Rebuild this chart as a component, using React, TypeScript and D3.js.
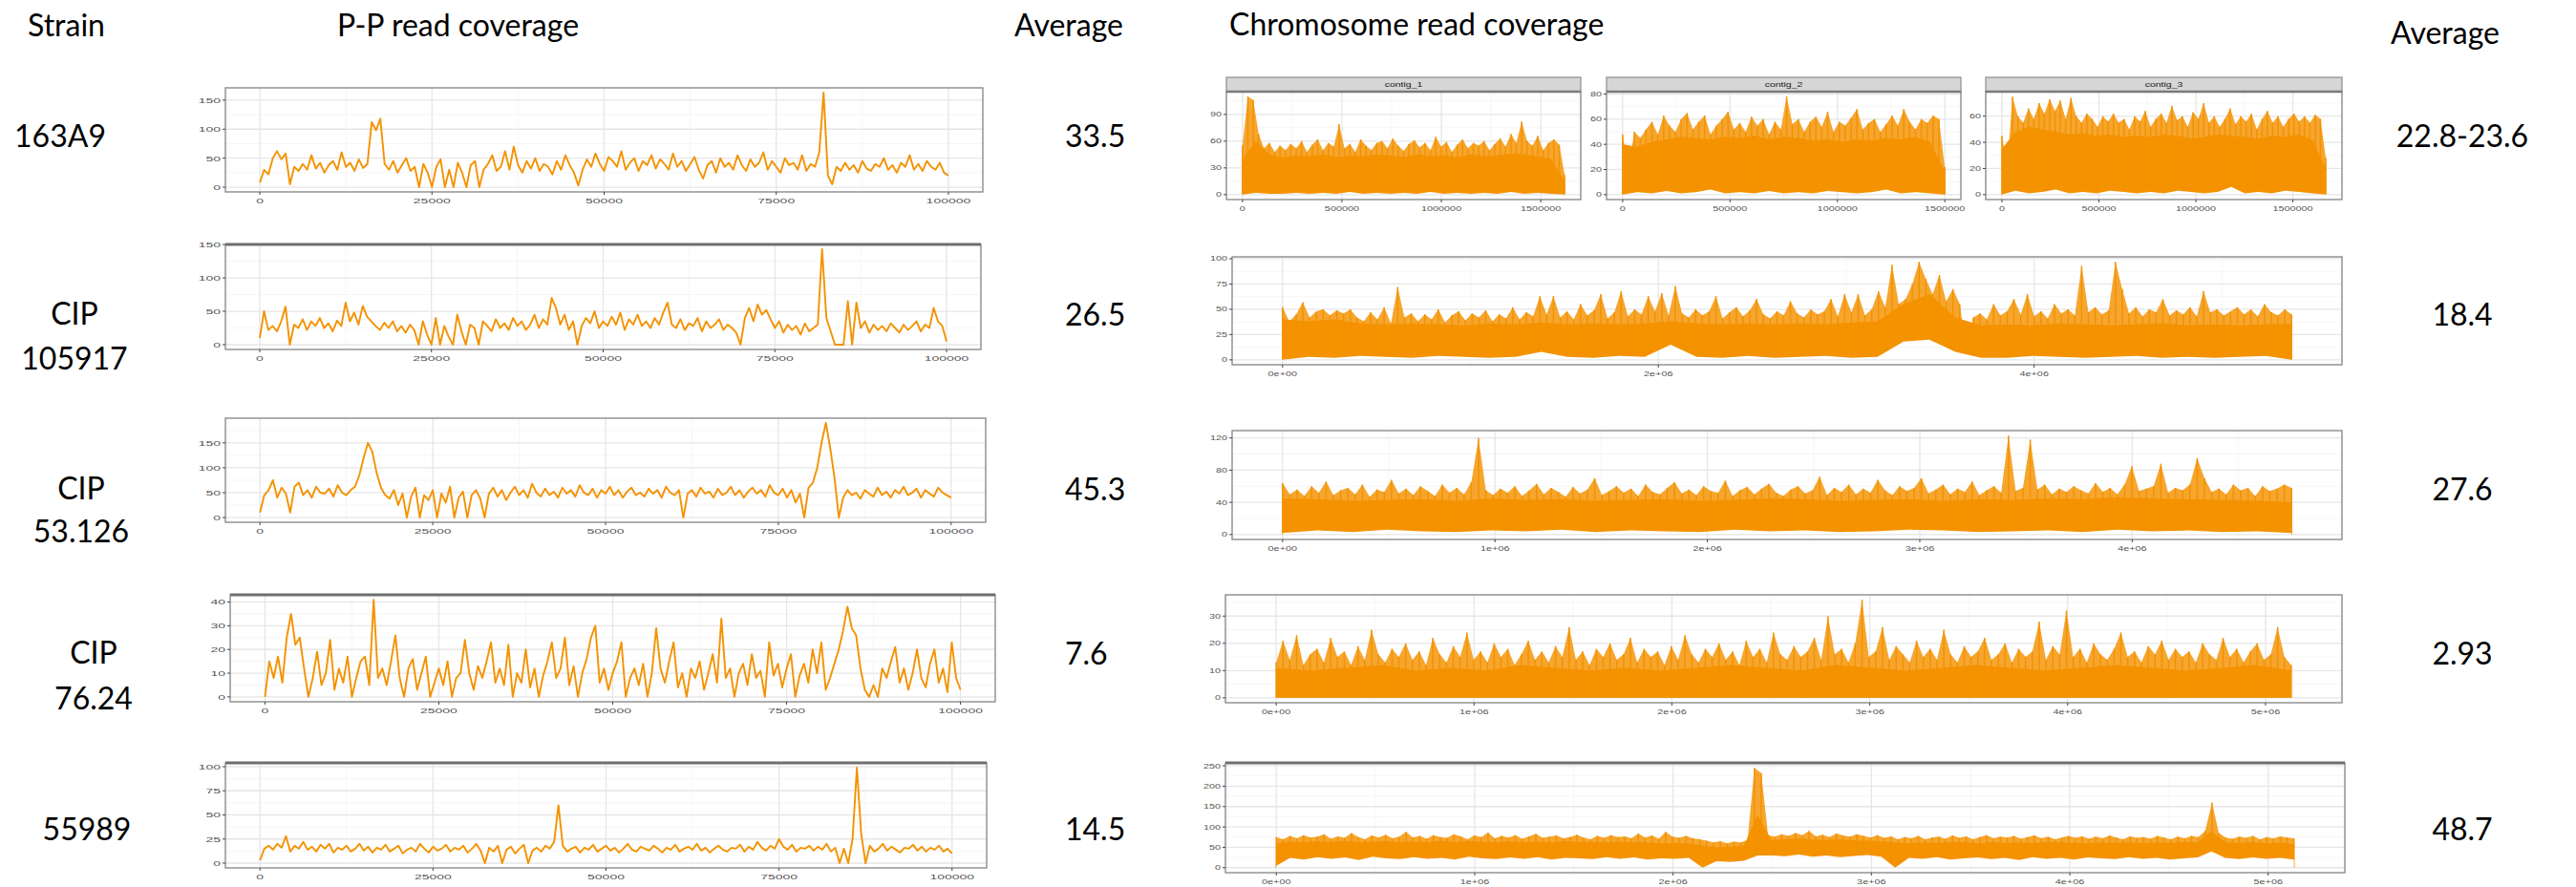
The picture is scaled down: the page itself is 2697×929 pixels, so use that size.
import React, { useRef, useEffect } from 'react';
import * as d3 from 'd3';

// ---------------- data ----------------
const strainNames = [["163A9"], ["CIP", "105917"], ["CIP", "53.126"], ["CIP", "76.24"], ["55989"]];
const ppAverage = ["33.5", "26.5", "45.3", "7.6", "14.5"];
const chrAverage = ["22.8-23.6", "18.4", "27.6", "2.93", "48.7"];

// P-P coverage, positions 0..100000, evenly sampled
const pp163A9 = [
  8, 30, 22, 50, 62, 48, 58, 5, 35, 28, 40, 30, 55, 32, 42, 25, 38, 45, 30, 60,
  35, 42, 28, 48, 33, 40, 112, 98, 118, 40, 30, 45, 25, 38, 50, 28, 35, 0, 40, 25,
  0, 35, 48, 0, 30, 0, 42, 25, 0, 38, 45, 0, 30, 40, 55, 28, 35, 62, 30, 70,
  38, 25, 45, 32, 50, 28, 40, 35, 22, 45, 30, 55, 38, 25, 3, 30, 48, 35, 58, 40,
  28, 52, 45, 35, 62, 30, 42, 50, 28, 45, 38, 55, 32, 48, 40, 30, 58, 35, 45, 28,
  40, 52, 30, 15, 38, 45, 25, 50, 35, 42, 30, 55, 38, 28, 48, 35, 42, 60, 30, 45,
  35, 25, 50, 38, 42, 30, 55, 28, 40, 35, 60, 163, 20, 5, 35, 28, 42, 30, 38, 25,
  45, 32, 28, 40, 35, 50, 30, 38, 25, 42, 35, 55, 30, 40, 28, 45, 35, 30, 42, 25, 20,
];
const ppCIP105917 = [
  10, 50, 22, 28, 20, 35, 57, 0, 30, 25, 38, 22, 35, 28, 40, 25, 32, 20, 36, 28,
  63, 35, 48, 30, 58, 42, 35, 28, 22, 33, 25, 35, 20, 28, 18, 30, 22, 0, 35, 15,
  0, 40, 0, 28, 12, 0, 45, 20, 0, 30, 25, 0, 35, 28, 20, 38, 25, 32, 22, 40,
  28, 35, 22, 30, 45, 25, 38, 30, 70, 55, 30, 45, 22, 35, 0, 28, 40, 32, 50, 25,
  35, 28, 42, 30, 48, 22, 38, 30, 45, 28, 35, 25, 40, 30, 48, 63, 30, 25, 38, 22,
  32, 28, 40, 20, 35, 25, 30, 38, 22, 30, 25, 18, 0, 40, 55, 35, 60, 45, 52, 38,
  25, 35, 18, 30, 22, 28, 15, 32, 20, 25, 30, 143, 40, 20, 0, 0, 0, 65, 0, 63,
  25, 35, 18, 30, 22, 28, 20, 32, 25, 18, 30, 22, 28, 35, 20, 30, 25, 55, 35, 28, 5,
];
const ppCIP53126 = [
  10, 45, 55, 75, 40, 60, 48, 10, 62, 70, 45, 55, 40, 62, 50, 48, 58, 42, 65, 50,
  45, 55, 62, 85, 120, 150, 132, 90, 60, 45, 38, 55, 25, 48, 0, 42, 60, 0, 45, 35,
  55, 0, 48, 30, 62, 0, 40, 52, 0, 45, 55, 38, 0, 48, 60, 42, 55, 35, 50, 62,
  45, 55, 40, 68, 50, 42, 58, 45, 52, 40, 60, 48, 55, 42, 65, 50, 45, 58, 40, 55,
  48, 62, 45, 55, 40, 52, 60, 45, 50, 42, 58, 48, 55, 40, 62, 50, 45, 55, 0, 48,
  55, 42, 60, 48, 52, 40, 58, 45, 50, 62, 45, 55, 40, 52, 60, 48, 55, 42, 65, 50,
  45, 58, 40, 55, 30, 48, 0, 60, 70, 100, 150, 190, 140, 80, 0, 40, 55, 45, 50, 38,
  55, 48, 42, 60, 45, 52, 40, 55, 48, 62, 45, 50, 58, 40, 55, 48, 42, 60, 50, 45, 40,
];
const ppCIP7624 = [
  0, 15, 8, 17, 6, 25, 35, 22, 25, 12, 0, 8, 19, 5, 10, 24, 3, 12, 6, 17,
  0, 8, 15, 17, 5, 41, 8, 12, 5, 15, 26, 8, 0, 12, 16, 3, 10, 17, 0, 6,
  12, 5, 15, 0, 8, 10, 24, 10, 3, 13, 8, 15, 23, 6, 12, 5, 22, 0, 10, 6,
  20, 4, 12, 0, 9, 15, 23, 8, 12, 25, 5, 13, 0, 10, 16, 25, 30, 6, 12, 3,
  10, 15, 23, 0, 8, 12, 5, 14, 0, 10, 29, 12, 6, 15, 23, 4, 10, 0, 12, 8,
  15, 3, 10, 18, 6, 33, 8, 12, 0, 10, 14, 5, 18, 8, 11, 0, 23, 9, 14, 4,
  12, 18, 0, 9, 14, 6, 20, 10, 23, 3, 8, 14, 20, 28, 38, 29, 26, 12, 3, 0,
  5, 0, 12, 8, 15, 21, 6, 12, 3, 10, 20, 8, 4, 14, 20, 6, 12, 2, 23, 8, 3,
];
const pp55989 = [
  3, 15, 18, 14, 20, 16, 28, 12, 18, 15, 22, 14, 17, 12, 19, 15, 20, 11, 16, 14,
  18, 12, 15, 20, 13, 17, 11, 16, 14, 19, 12, 15, 18, 10, 14, 16, 12, 20, 15, 11,
  17, 13, 15, 19, 12, 16, 14, 18, 11, 15, 20, 13, 0, 16, 12, 18, 0, 14, 17, 10,
  15, 19, 0, 13, 16, 12, 18, 15, 22, 60, 18, 12, 15, 17, 11, 16, 14, 19, 12, 15,
  18, 13, 16, 11, 15, 20, 14, 12, 17, 15, 13, 18, 15, 11, 16, 14, 19, 12, 15, 17,
  14, 20, 13, 16, 11, 15, 18, 14, 12, 16, 15, 19, 12, 17, 14, 22, 16, 13, 18, 15,
  25, 17, 14, 19, 12, 16, 15, 18, 13, 17, 14, 20, 12, 16, 0, 15, 0, 25, 99, 30,
  0, 18, 12, 15, 20, 13, 17, 14, 11, 16, 15, 19, 13, 17, 12, 16, 14, 18, 12, 15, 10,
];
const ppValues = [pp163A9, ppCIP105917, ppCIP53126, ppCIP7624, pp55989];
const ppLength = 100000;
const ppYTicks = [[0, 50, 100, 150], [0, 50, 100, 150], [0, 50, 100, 150], [0, 10, 20, 30, 40], [0, 25, 50, 75, 100]];
const ppXTicks = [0, 25000, 50000, 75000, 100000];
const ppXLabels = ["0", "25000", "50000", "75000", "100000"];

// Chromosome coverage is very dense: kept as spike tips (hi), the solid core top (core)
// and the lower envelope (lo), each sampled evenly along the sequence.
const contigNames = ["contig_1", "contig_2", "contig_3"];
const contigLengths = [1620000, 1500000, 1670000];
const contig1Hi = [
  55, 110, 106, 68, 52, 58, 48, 55, 50, 57, 52, 60, 48, 56, 62, 50, 58, 54, 79, 52,
  57, 48, 62, 55, 50, 58, 60, 52, 63, 55, 49, 57, 61, 53, 58, 50, 65, 54, 59, 48,
  56, 62, 52, 58, 55, 60, 50, 57, 63, 54, 68, 58, 82, 60, 55, 66, 50, 58, 62, 56, 22,
];
const contig1Core = [40, 60, 45, 42, 44, 43, 45, 42, 44, 43, 45, 44, 42, 45, 43, 44, 42, 45, 43, 44, 46, 45, 43, 40, 15];
const contig1Lo = [0, 2, 1, 1, 2, 1, 2, 1, 3, 1, 2, 1, 2, 1, 3, 1, 2, 1, 2, 1, 3, 1, 2, 1, 0];
const contig2Hi = [
  48, 20, 50, 45, 52, 58, 48, 63, 55, 50, 60, 65, 52, 58, 63, 48, 55, 60, 66, 52,
  57, 50, 62, 55, 60, 48, 58, 52, 78, 56, 60, 50, 58, 62, 54, 66, 50, 58, 55, 61,
  68, 52, 57, 60, 50, 56, 63, 55, 68, 58, 52, 60, 57, 63, 60, 22,
];
const contig2Core = [40, 38, 42, 44, 46, 45, 44, 46, 45, 47, 44, 46, 45, 43, 44, 42, 44, 43, 45, 44, 46, 42, 18];
const contig2Lo = [0, 2, 1, 3, 1, 2, 4, 1, 2, 1, 3, 1, 2, 1, 3, 2, 1, 2, 4, 1, 2, 1, 0];
const contig3Hi = [
  45, 22, 75, 60, 55, 66, 58, 70, 62, 73, 64, 72, 58, 74, 60, 55, 62, 58, 52, 60,
  56, 62, 55, 58, 50, 60, 56, 64, 52, 58, 62, 55, 68, 57, 60, 52, 63, 58, 70, 55,
  60, 52, 58, 66, 54, 60, 56, 62, 50, 58, 64, 55, 60, 52, 58, 62, 56, 60, 55, 61, 58, 28,
];
const contig3Core = [35, 48, 52, 50, 48, 46, 47, 45, 46, 44, 45, 44, 46, 45, 43, 44, 46, 45, 44, 43, 45, 44, 46, 42, 20];
const contig3Lo = [0, 3, 1, 2, 4, 1, 2, 1, 3, 2, 1, 2, 1, 3, 2, 1, 2, 6, 1, 2, 1, 3, 2, 1, 0];
const contigHi = [contig1Hi, contig2Hi, contig3Hi];
const contigCore = [contig1Core, contig2Core, contig3Core];
const contigLo = [contig1Lo, contig2Lo, contig3Lo];
const contigYTicks = [[0, 30, 60, 90], [0, 20, 40, 60, 80], [0, 20, 40, 60]];
const contigXTicks = [0, 500000, 1000000, 1500000];
const contigXLabels = ["0", "500000", "1000000", "1500000"];

const chrLengths = [5370000, 4750000, 5130000, 5130000];
const chrCIP105917Hi = [
  52, 38, 45, 57, 42, 48, 50, 44, 49, 46, 50, 42, 38, 47, 40, 52, 36, 72, 42, 46,
  38, 45, 40, 50, 37, 44, 48, 39, 46, 42, 49, 38, 45, 41, 52, 40, 47, 43, 63, 45,
  63, 42, 48, 40, 55, 44, 49, 65, 41, 47, 68, 43, 50, 45, 63, 48, 66, 44, 73, 46,
  42, 50, 44, 48, 63, 41, 47, 52, 43, 49, 60, 45, 41, 48, 44, 58, 46, 42, 50, 45,
  48, 60, 43, 65, 47, 65, 44, 50, 68, 52, 94, 55, 60, 75, 97, 80, 65, 84, 58, 70,
  55, 10, 42, 46, 40, 55, 44, 48, 60, 45, 65, 43, 48, 41, 55, 46, 50, 44, 93, 47,
  52, 45, 49, 97, 70, 46, 52, 43, 50, 47, 60, 44, 49, 45, 52, 43, 68, 47, 50, 44,
  48, 52, 45, 50, 43, 55, 47, 44, 50, 45,
];
const chrCIP105917Core = [
  40, 38, 40, 36, 35, 36, 35, 34, 36, 35, 37, 35, 36, 35, 36, 38, 36, 35, 36, 35,
  36, 35, 37, 38, 55, 65, 42, 34, 35, 34, 36, 35, 34, 35, 36, 34, 35, 34, 35, 36,
];
const chrCIP105917Lo = [
  0, 3, 2, 4, 3, 2, 4, 3, 2, 3, 8, 3, 2, 4, 3, 15, 3, 2, 4, 2,
  3, 4, 2, 3, 18, 20, 8, 2, 2, 4, 3, 2, 3, 4, 2, 3, 2, 3, 4, 0,
];
const chrCIP53126Hi = [
  64, 50, 56, 48, 60, 52, 66, 49, 55, 58, 50, 62, 47, 56, 53, 68, 51, 57, 49, 60,
  54, 48, 62, 52, 58, 50, 65, 120, 55, 49, 57, 52, 60, 48, 55, 63, 50, 58, 53, 47,
  59, 51, 56, 70, 49, 54, 60, 52, 57, 48, 62, 53, 50, 58, 65, 51, 56, 49, 60, 54,
  52, 67, 48, 55, 59, 50, 57, 63, 52, 48, 56, 60, 51, 55, 72, 49, 58, 53, 62, 50,
  57, 52, 68, 55, 49, 60, 54, 58, 70, 51, 56, 62, 50, 57, 53, 66, 49, 55, 60, 52,
  123, 54, 58, 118, 56, 62, 50, 57, 53, 60, 55, 51, 64, 53, 58, 50, 62, 85, 54, 57,
  60, 88, 52, 58, 55, 62, 95, 70, 53, 57, 50, 62, 55, 58, 48, 60, 54, 57, 62, 58,
];
const chrCIP53126Core = [45, 44, 42, 43, 44, 42, 45, 43, 44, 42, 43, 44, 42, 43, 45, 44, 42, 43, 44, 42, 44, 43, 45, 44, 46, 45, 44, 43, 42, 40];
const chrCIP53126Lo = [2, 5, 3, 6, 4, 3, 5, 4, 6, 3, 5, 4, 3, 6, 4, 5, 3, 4, 6, 5, 3, 4, 5, 3, 6, 4, 5, 3, 4, 2];
const chrCIP7624Hi = [
  13, 21, 14, 23, 12, 16, 18, 13, 22, 15, 17, 12, 19, 14, 25, 16, 13, 18, 15, 20,
  14, 17, 12, 22, 16, 13, 19, 15, 24, 14, 17, 13, 20, 15, 18, 12, 16, 21, 14, 17,
  13, 19, 15, 26, 14, 17, 12, 18, 15, 20, 14, 16, 22, 13, 18, 15, 17, 12, 19, 14,
  23, 16, 13, 18, 15, 20, 14, 17, 12, 21, 15, 18, 13, 24, 16, 14, 19, 15, 17, 22,
  14, 30, 16, 18, 13, 20, 36, 15, 17, 26, 14, 19, 16, 13, 21, 15, 18, 14, 25, 16,
  13, 19, 15, 17, 22, 14, 16, 20, 13, 18, 15, 17, 28, 14, 19, 16, 32, 15, 18, 13,
  20, 16, 14, 18, 24, 15, 17, 13, 19, 16, 21, 14, 18, 15, 17, 13, 20, 16, 14, 22,
  15, 18, 13, 17, 20, 14, 16, 26, 15, 12,
];
const chrCIP7624Core = [11, 10, 11, 12, 10, 11, 10, 12, 11, 10, 11, 10, 11, 12, 11, 10, 12, 11, 10, 11, 12, 11, 10, 11, 12, 11, 10, 11, 12, 10];
const chr55989Hi = [
  75, 70, 78, 72, 80, 74, 76, 82, 71, 77, 73, 85, 75, 70, 79, 74, 81, 72, 76, 88,
  74, 78, 71, 80, 75, 73, 82, 77, 70, 79, 75, 86, 72, 78, 74, 80, 71, 77, 83, 73,
  76, 79, 72, 75, 81, 74, 70, 78, 73, 80, 75, 77, 72, 84, 74, 79, 71, 88, 76, 73,
  78, 72, 70, 66, 62, 65, 60, 64, 62, 68, 245, 232, 80, 76, 82, 78, 85, 80, 90, 77,
  81, 75, 84, 79, 76, 82, 78, 74, 80, 73, 77, 70, 75, 72, 78, 70, 74, 76, 71, 79,
  73, 77, 70, 75, 80, 72, 76, 74, 78, 71, 75, 79, 72, 76, 70, 74, 78, 73, 77, 71,
  76, 72, 79, 74, 70, 77, 73, 75, 71, 78, 74, 70, 76, 72, 78, 75, 90, 160, 85, 74,
  71, 76, 73, 78, 70, 75, 72, 77, 74, 72,
];
const chr55989Core = [
  60, 64, 62, 65, 63, 66, 62, 64, 65, 63, 64, 62, 66, 63, 65, 64, 62, 65, 63, 64,
  62, 65, 64, 63, 62, 64, 63, 62, 60, 61, 60, 55, 50, 52, 54, 130, 68, 70, 72, 69,
  68, 70, 67, 66, 65, 62, 60, 62, 61, 63, 62, 60, 63, 61, 62, 60, 63, 62, 61, 60,
  62, 61, 63, 60, 62, 61, 63, 62, 90, 62, 61, 63, 60, 62, 58,
];
const chr55989Lo = [
  5, 24, 20, 26, 22, 25, 19, 27, 23, 21, 26, 22, 24, 20, 27, 23, 21, 25, 22, 26,
  20, 24, 23, 21, 26, 22, 25, 20, 23, 22, 24, 0, 16, 14, 17, 30, 30, 28, 32, 27,
  30, 26, 29, 31, 27, 0, 24, 22, 26, 20, 23, 25, 21, 24, 19, 26, 22, 24, 20, 25,
  23, 21, 26, 22, 24, 20, 23, 25, 40, 24, 21, 25, 22, 24, 20,
];
const chrHi = [chrCIP105917Hi, chrCIP53126Hi, chrCIP7624Hi, chr55989Hi];
const chrCore = [chrCIP105917Core, chrCIP53126Core, chrCIP7624Core, chr55989Core];
const chrLo = [chrCIP105917Lo, chrCIP53126Lo, null, chr55989Lo];
const chrYTicks = [[0, 25, 50, 75, 100], [0, 40, 80, 120], [0, 10, 20, 30], [0, 50, 100, 150, 200, 250]];
const chrXTicks = [
  [0, 2e6, 4e6],
  [0, 1e6, 2e6, 3e6, 4e6],
  [0, 1e6, 2e6, 3e6, 4e6, 5e6],
  [0, 1e6, 2e6, 3e6, 4e6, 5e6],
];
const chrXLabels = [
  ["0e+00", "2e+06", "4e+06"],
  ["0e+00", "1e+06", "2e+06", "3e+06", "4e+06"],
  ["0e+00", "1e+06", "2e+06", "3e+06", "4e+06", "5e+06"],
  ["0e+00", "1e+06", "2e+06", "3e+06", "4e+06", "5e+06"],
];

// ---------------- layout ----------------
const W = 2697, H = 929;
const ORANGE = '#f49200';
const BIG_FONT = 'Lato, "Noto Sans", sans-serif';
const TICK_FONT = '"Liberation Sans", Arial, sans-serif';

const ppBoxes = [[236, 92, 1029, 201], [236, 256, 1027, 366], [236, 438, 1032, 547], [241, 623, 1042, 735], [236, 799, 1033, 909]];
const ppThickTop = [false, true, false, true, true];
const contigBoxes = [[1284, 96, 1655, 209], [1682, 96, 2053, 209], [2079, 96, 2452, 209]];
const chrBoxes = [[1290, 269, 2452, 382], [1290, 451, 2452, 565], [1283, 623, 2452, 736], [1283, 799, 2455, 914]];
const chrThickTop = [false, false, false, true];
const strainX = [63, 78, 85, 98, 91];
const rowBase = [[154], [340, 387], [523, 568], [695, 743], [880]];
const avgBase = [154, 341, 524, 696, 880];

function drawPanel(svg, p) {
  const [x0, y0, x1, y1] = p.box;
  const L = p.length;
  const x = d3.scaleLinear().domain([-0.05 * L, 1.05 * L]).range([x0, x1]);
  const vals = [].concat(p.hi, p.core || [], p.lo || []);
  const mn = Math.min(0, d3.min(vals)), mx = d3.max(vals);
  const pad = (mx - mn) * 0.05;
  const y = d3.scaleLinear().domain([mn - pad, mx + pad]).range([y1, y0]);
  const g = svg.append('g');

  g.append('rect').attr('x', x0).attr('y', y0).attr('width', x1 - x0).attr('height', y1 - y0).attr('fill', '#fff');

  // grid
  const xs = p.xTicks[1] - p.xTicks[0];
  const ys = p.yTicks[1] - p.yTicks[0];
  const [dx0, dx1] = x.domain();
  const [dy0, dy1] = y.domain();
  const xMinor = d3.range(p.xTicks[0] - xs / 2, dx1, xs).filter(v => v >= dx0);
  const yMinor = d3.range(p.yTicks[0] - ys / 2, dy1, ys).filter(v => v >= dy0);
  const xMajor = p.xTicks.filter(v => v >= dx0 && v <= dx1);
  const yMajor = p.yTicks.filter(v => v >= dy0 && v <= dy1);
  g.selectAll(null).data(xMinor).enter().append('line')
    .attr('x1', d => x(d)).attr('x2', d => x(d)).attr('y1', y0).attr('y2', y1)
    .attr('stroke', '#f4f4f4').attr('stroke-width', 0.8);
  g.selectAll(null).data(yMinor).enter().append('line')
    .attr('x1', x0).attr('x2', x1).attr('y1', d => y(d)).attr('y2', d => y(d))
    .attr('stroke', '#f4f4f4').attr('stroke-width', 0.8);
  g.selectAll(null).data(xMajor).enter().append('line')
    .attr('x1', d => x(d)).attr('x2', d => x(d)).attr('y1', y0).attr('y2', y1)
    .attr('stroke', '#e6e6e6').attr('stroke-width', 1.3);
  g.selectAll(null).data(yMajor).enter().append('line')
    .attr('x1', x0).attr('x2', x1).attr('y1', d => y(d)).attr('y2', d => y(d))
    .attr('stroke', '#e6e6e6').attr('stroke-width', 1.3);

  const clipId = `clip-${p.id}`;
  svg.append('clipPath').attr('id', clipId).append('rect')
    .attr('x', x0).attr('y', y0).attr('width', x1 - x0).attr('height', y1 - y0);
  const data = g.append('g').attr('clip-path', `url(#${clipId})`);

  const posHi = (i) => x(i * L / (p.hi.length - 1));
  if (p.line) {
    const ln = d3.line().x((d, i) => posHi(i)).y(d => y(d));
    data.append('path').attr('d', ln(p.hi)).attr('fill', 'none').attr('stroke', ORANGE)
      .attr('stroke-width', 1.9).attr('stroke-linejoin', 'round');
  } else {
    const dense = data.append('g');
    if (p.lo) {
      const maskId = `mask-${p.id}`;
      const mask = svg.append('mask').attr('id', maskId).attr('maskUnits', 'userSpaceOnUse')
        .attr('x', x0).attr('y', y0).attr('width', x1 - x0).attr('height', y1 - y0);
      mask.append('rect').attr('x', x0).attr('y', y0).attr('width', x1 - x0).attr('height', y1 - y0).attr('fill', '#fff');
      const posLo = (i) => x(i * L / (p.lo.length - 1));
      const arLo = d3.area().x((d, i) => posLo(i)).y0(y(0) + 1).y1(d => y(d));
      mask.append('path').attr('d', arLo(p.lo)).attr('fill', '#000');
      dense.attr('mask', `url(#${maskId})`);
    }
    // fringe of spikes, solid core, spike tips
    const arHi = d3.area().x((d, i) => posHi(i)).y0(y(0)).y1(d => y(d));
    dense.append('path').attr('d', arHi(p.hi)).attr('fill', ORANGE).attr('fill-opacity', 0.82);
    const posCore = (i) => x(i * L / (p.core.length - 1));
    const arCore = d3.area().x((d, i) => posCore(i)).y0(y(0)).y1(d => y(d));
    dense.append('path').attr('d', arCore(p.core)).attr('fill', ORANGE);
    dense.selectAll(null).data(p.hi).enter().append('line')
      .attr('x1', (d, i) => posHi(i)).attr('x2', (d, i) => posHi(i))
      .attr('y1', y(0)).attr('y2', d => y(d))
      .attr('stroke', ORANGE).attr('stroke-width', 1.5);
  }

  // border
  g.append('rect').attr('x', x0).attr('y', y0).attr('width', x1 - x0).attr('height', y1 - y0)
    .attr('fill', 'none').attr('stroke', '#8c8c8c').attr('stroke-width', 1.4);
  if (p.thickTop) {
    g.append('line').attr('x1', x0).attr('x2', x1).attr('y1', y0).attr('y2', y0)
      .attr('stroke', '#6e6e6e').attr('stroke-width', 3.2);
  }

  // axes
  g.selectAll(null).data(p.xTicks).enter().append('line')
    .attr('x1', d => x(d)).attr('x2', d => x(d)).attr('y1', y1).attr('y2', y1 + 3)
    .attr('stroke', '#444').attr('stroke-width', 1);
  g.selectAll(null).data(p.xTicks).enter().append('text')
    .attr('transform', d => `translate(${x(d)},${y1 + 12}) scale(${p.sx},1)`)
    .attr('text-anchor', 'middle').attr('font-family', TICK_FONT).attr('font-size', p.fs)
    .attr('fill', '#555').text((d, i) => p.xLabels[i]);
  g.selectAll(null).data(p.yTicks).enter().append('line')
    .attr('x1', x0 - 3).attr('x2', x0).attr('y1', d => y(d)).attr('y2', d => y(d))
    .attr('stroke', '#444').attr('stroke-width', 1);
  g.selectAll(null).data(p.yTicks).enter().append('text')
    .attr('transform', d => `translate(${x0 - 5},${y(d) + p.fs * 0.36}) scale(${p.sx},1)`)
    .attr('text-anchor', 'end').attr('font-family', TICK_FONT).attr('font-size', p.fs)
    .attr('fill', '#555').text(d => String(d));

  // facet strip
  if (p.strip) {
    g.append('rect').attr('x', x0).attr('y', y0 - 15).attr('width', x1 - x0).attr('height', 15)
      .attr('fill', '#d6d6d6').attr('stroke', '#8c8c8c').attr('stroke-width', 1.2);
    g.append('line').attr('x1', x0).attr('x2', x1).attr('y1', y0).attr('y2', y0)
      .attr('stroke', '#7a7a7a').attr('stroke-width', 2.6);
    g.append('text')
      .attr('transform', `translate(${(x0 + x1) / 2},${y0 - 5}) scale(1.5,1)`)
      .attr('text-anchor', 'middle').attr('font-family', TICK_FONT).attr('font-size', 7)
      .attr('fill', '#1a1a1a').text(p.strip);
  }
}

export default function App() {
  const svgRef = useRef(null);

  useEffect(() => {
    if (!svgRef.current) return;
    const svg = d3.select(svgRef.current);
    svg.selectAll('*').remove();

    svg.append('rect').attr('width', W).attr('height', H).attr('fill', '#fff');

    const headers = [
      { t: 'Strain', x: 29, y: 38 },
      { t: 'P-P read coverage', x: 353, y: 38 },
      { t: 'Average', x: 1062, y: 38 },
      { t: 'Chromosome read coverage', x: 1287, y: 37 },
      { t: 'Average', x: 2503, y: 46 },
    ];
    svg.selectAll(null).data(headers).enter().append('text')
      .attr('x', d => d.x).attr('y', d => d.y)
      .attr('font-family', BIG_FONT).attr('font-size', 32).attr('fill', '#000')
      .text(d => d.t);

    strainNames.forEach((lines, r) => {
      lines.forEach((s, k) => {
        svg.append('text').attr('x', strainX[r]).attr('y', rowBase[r][k])
          .attr('text-anchor', 'middle').attr('font-family', BIG_FONT).attr('font-size', 32)
          .text(s);
      });
      svg.append('text').attr('x', 1115).attr('y', avgBase[r])
        .attr('font-family', BIG_FONT).attr('font-size', 32).text(ppAverage[r]);
      svg.append('text').attr('x', 2578).attr('y', avgBase[r])
        .attr('text-anchor', 'middle').attr('font-family', BIG_FONT).attr('font-size', 32).text(chrAverage[r]);
    });

    ppValues.forEach((vals, r) => {
      drawPanel(svg, {
        id: `pp${r}`, box: ppBoxes[r], length: ppLength, hi: vals, line: true,
        yTicks: ppYTicks[r], xTicks: ppXTicks, xLabels: ppXLabels,
        thickTop: ppThickTop[r], fs: 8, sx: 1.75,
      });
    });

    contigNames.forEach((name, c) => {
      drawPanel(svg, {
        id: `ct${c}`, box: contigBoxes[c], length: contigLengths[c],
        hi: contigHi[c], core: contigCore[c], lo: contigLo[c],
        yTicks: contigYTicks[c], xTicks: contigXTicks, xLabels: contigXLabels,
        strip: name, fs: 7, sx: 1.55,
      });
    });

    chrHi.forEach((hi, r) => {
      drawPanel(svg, {
        id: `chr${r}`, box: chrBoxes[r], length: chrLengths[r],
        hi, core: chrCore[r], lo: chrLo[r],
        yTicks: chrYTicks[r], xTicks: chrXTicks[r], xLabels: chrXLabels[r],
        thickTop: chrThickTop[r], fs: 7, sx: 1.55,
      });
    });
  }, []);

  return (
    <div>
      <svg ref={svgRef} width={W} height={H} style={{ position: 'absolute', left: 0, top: 0 }}></svg>
    </div>
  );
}
